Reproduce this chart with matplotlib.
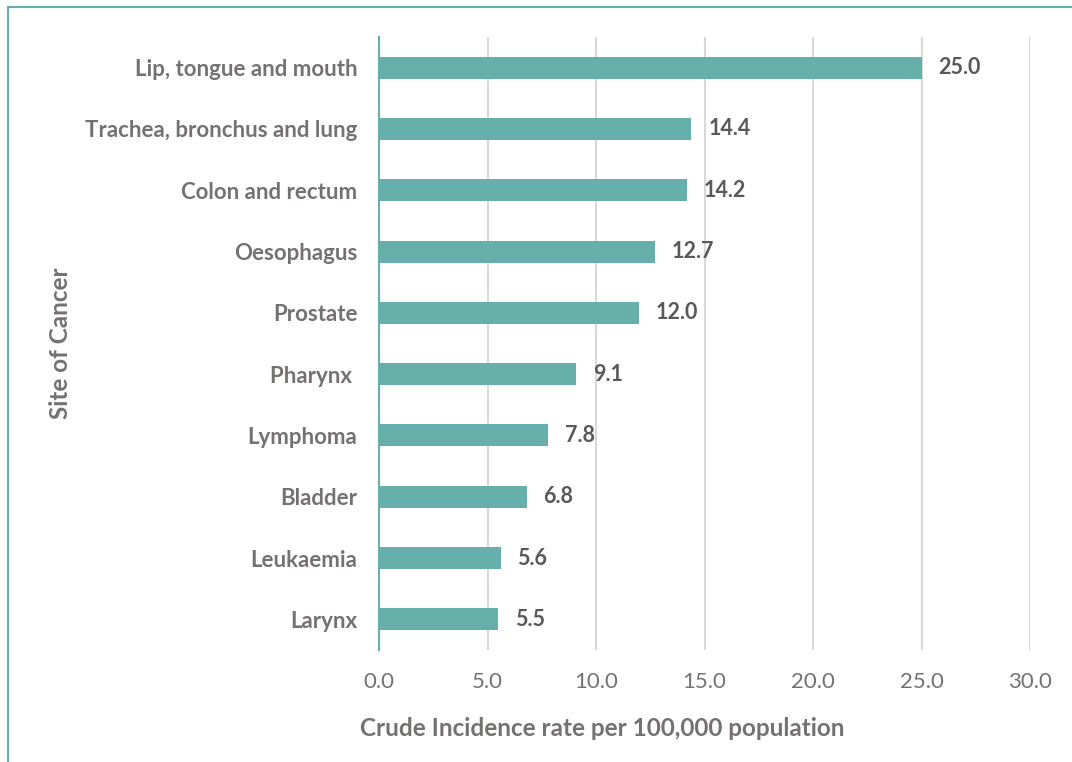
import matplotlib.pyplot as plt
from matplotlib.patches import Rectangle

# cancer sites, top to bottom as shown
sites = ['Lip, tongue and mouth', 'Trachea, bronchus and lung', 'Colon and rectum',
         'Oesophagus', 'Prostate', 'Pharynx ', 'Lymphoma', 'Bladder', 'Leukaemia', 'Larynx']
rates = [25.0, 14.4, 14.2, 12.7, 12.0, 9.1, 7.8, 6.8, 5.6, 5.5]
xticks = [0, 5, 10, 15, 20, 25, 30]

teal = '#66AFAA'
grey = '#767171'

plt.rcParams['font.family'] = ['Lato', 'DejaVu Sans']

fig = plt.figure(figsize=(10.72, 7.62), dpi=100)
ax = fig.add_axes([379/1072, 1 - 650/762, 651/1072, 613/762])

ypos = list(range(len(sites)))[::-1]
ax.barh(ypos, rates, height=0.36, color=teal, zorder=3)

# data labels
for y, v in zip(ypos, rates):
    ax.annotate('%.1f' % v, xy=(v, y), xytext=(12, 0), textcoords='offset points',
                va='center', ha='left', fontsize=15.5, fontweight='bold', color='#595959')

ax.set_xlim(0, 30)
ax.set_ylim(-0.5, len(sites) - 0.5)
ax.set_xticks(xticks)
ax.set_xticklabels(['%.1f' % t for t in xticks])
ax.set_yticks(ypos)
ax.set_yticklabels(sites, fontsize=16, fontweight='bold', color=grey)
ax.tick_params(axis='x', length=0, pad=16, labelsize=16, labelcolor=grey)
ax.tick_params(axis='y', length=0, pad=15.5)

ax.grid(axis='x', color='#D9D9D9', linewidth=1.5, zorder=0)
for s in ['top', 'right', 'bottom']:
    ax.spines[s].set_visible(False)
ax.spines['left'].set_color(teal)
ax.spines['left'].set_linewidth(1.5)
ax.spines['left'].set_zorder(4)

fig.text(602/1072, 1 - 729/762, 'Crude Incidence rate per 100,000 population',
         ha='center', va='center', fontsize=17.5, fontweight='bold', color=grey)
fig.text(60/1072, 1 - 343/762, 'Site of Cancer', rotation=90,
         ha='center', va='center', fontsize=17.5, fontweight='bold', color=grey)

# outer frame
fig.patches.append(Rectangle((8/1072, -0.1), 1.2, 1.1 - 7/762, transform=fig.transFigure,
                             fill=False, edgecolor=teal, linewidth=1.5))

fig.savefig('out.png', dpi=100)
